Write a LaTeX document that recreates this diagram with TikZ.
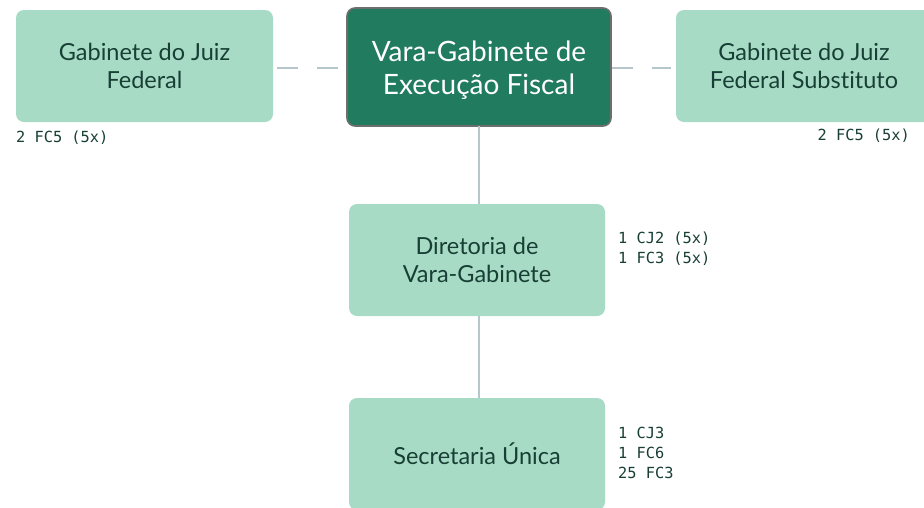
\documentclass[tikz,border=0pt]{standalone}
\usepackage{fontspec}
\setmainfont{Lato}[Ligatures=NoCommon]
\newfontfamily\lblfont{DejaVu Sans Mono}
\definecolor{boxlight}{HTML}{A8DBC5}
\definecolor{boxdark}{HTML}{217B5F}
\definecolor{txtdark}{HTML}{173F35}
\definecolor{linec}{HTML}{B5C6CD}
\definecolor{bordc}{HTML}{6E6E6E}
\begin{document}
\begin{tikzpicture}[x=1pt,y=-1pt,
  lightbox/.style={fill=boxlight,rounded corners=8pt,inner sep=0pt,text=txtdark,font=\fontsize{23.5}{28}\selectfont,align=center},
  darkbox/.style={fill=boxdark,draw=bordc,line width=1.6pt,rounded corners=8pt,inner sep=0pt},
  darktext/.style={inner sep=0pt,text=white,font=\fontsize{28}{32.5}\selectfont,align=center},
  lbl/.style={inner sep=0pt,text=txtdark,font=\lblfont\fontsize{15.3}{19.8}\selectfont,align=left},
  conn/.style={draw=linec,line width=1.8pt},
  dconn/.style={conn,dash pattern=on 21pt off 19pt}]
\clip (0,0) rectangle (924,507);
\useasboundingbox (0,0) rectangle (924,507);
\fill[white] (0,0) rectangle (924,507);
% boxes
\node[darkbox,minimum width=264pt,minimum height=118pt] (vara) at (479,67) {};
\node[darktext] (varatext) at (479,70) {Vara-Gabinete de\\Execução Fiscal};
\node[lightbox,minimum width=257pt,minimum height=112pt] (gjf) at (144.5,66) {Gabinete do Juiz\\Federal};
\node[lightbox,minimum width=256pt,minimum height=112pt] (gjfs) at (804,66) {Gabinete do Juiz\\Federal Substituto};
\node[lightbox,minimum width=256pt,minimum height=112pt] (dir) at (477,260) {Diretoria de\\Vara-Gabinete};
\node[lightbox,minimum width=256pt,minimum height=112pt] (sec) at (477,454) {Secretaria Única};
% connectors
\coordinate (vl) at (vara.west |- 0,68);
\coordinate (gr) at (gjf.east |- 0,68);
\path[dconn,shorten <=4pt,shorten >=8pt] (gr) -- (vl);
\coordinate (vr) at (vara.east |- 0,68);
\coordinate (gsl) at (gjfs.west |- 0,68);
\path[dconn,shorten >=5pt] (vr) -- (gsl);
\coordinate (vb) at (479,126);
\coordinate (dt) at (479,204);
\coordinate (db) at (479,316);
\coordinate (st) at (479,398);
\path[conn] (vb) -- (dt);
\path[conn] (db) -- (st);
% labels
\node[lbl,anchor=west] (l1) at (16,138) {2 FC5 (5x)};
\node[lbl,anchor=east] (l2) at (910,136) {2 FC5 (5x)};
\node[lbl,anchor=north west] (l3) at (618,231.5) {1 CJ2 (5x)\\1 FC3 (5x)};
\node[lbl,anchor=north west] (l4) at (618,427) {1 CJ3\\1 FC6\\25 FC3};
\end{tikzpicture}
\end{document}
